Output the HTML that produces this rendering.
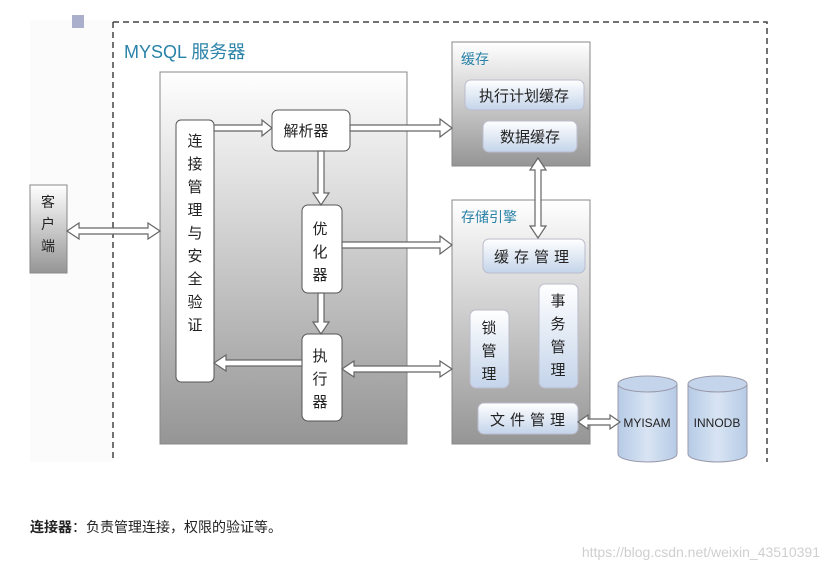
<!DOCTYPE html>
<html><head><meta charset="utf-8"><style>
html,body{margin:0;padding:0;background:#fff;width:827px;height:572px;overflow:hidden}
svg text{font-family:"Liberation Sans","Noto Sans CJK SC",sans-serif}
</style></head><body>
<svg width="827" height="572" viewBox="0 0 827 572" xmlns="http://www.w3.org/2000/svg">
<defs>
<linearGradient id="g1" x1="0" y1="0" x2="0" y2="1"><stop offset="0" stop-color="#ffffff"/><stop offset="1" stop-color="#959595"/></linearGradient>
<linearGradient id="g2" x1="0" y1="0" x2="0" y2="1"><stop offset="0" stop-color="#ffffff"/><stop offset="1" stop-color="#c4d4ea"/></linearGradient>
<linearGradient id="g3" x1="0" y1="0" x2="1" y2="0"><stop offset="0" stop-color="#b6cbe6"/><stop offset="0.5" stop-color="#d8e4f3"/><stop offset="1" stop-color="#b6cbe6"/></linearGradient>
</defs>
<rect x="30" y="20" width="83" height="442" fill="#fbfbfb"/>
<rect x="72" y="15" width="12" height="13" fill="#aab0cc"/>
<path d="M113 22 H767 V462 M113 22 V462" fill="none" stroke="#444" stroke-width="1.5" stroke-dasharray="6,4"/>
<text x="124" y="58" font-size="18" fill="#2a82a8">MYSQL 服务器</text>

<rect x="160" y="72" width="247" height="372" fill="url(#g1)" stroke="#888"/>
<rect x="30" y="185" width="37" height="88" fill="url(#g1)" stroke="#888"/>
<g font-size="14" fill="#222" text-anchor="middle">
<text x="48" y="207">客</text><text x="48" y="229">户</text><text x="48" y="251">端</text>
</g>

<rect x="176" y="120" width="38" height="262" rx="5" fill="#fff" stroke="#555"/>
<g font-size="15" fill="#222" text-anchor="middle">
<text x="195" y="146">连</text><text x="195" y="169">接</text><text x="195" y="192">管</text><text x="195" y="215">理</text><text x="195" y="238">与</text><text x="195" y="261">安</text><text x="195" y="284">全</text><text x="195" y="307">验</text><text x="195" y="330">证</text>
</g>
<rect x="272" y="110" width="78" height="41" rx="6" fill="#fff" stroke="#555"/>
<text x="306" y="136" font-size="15" fill="#222" text-anchor="middle">解析器</text>
<rect x="302" y="205" width="40" height="88" rx="6" fill="#fff" stroke="#555"/>
<g font-size="15" fill="#222" text-anchor="middle">
<text x="320" y="234">优</text><text x="320" y="257">化</text><text x="320" y="280">器</text>
</g>
<rect x="302" y="334" width="40" height="87" rx="6" fill="#fff" stroke="#555"/>
<g font-size="15" fill="#222" text-anchor="middle">
<text x="320" y="361">执</text><text x="320" y="384">行</text><text x="320" y="407">器</text>
</g>

<rect x="452" y="42" width="138" height="124" fill="url(#g1)" stroke="#888"/>
<text x="461" y="64" font-size="14" fill="#2a82a8">缓存</text>
<rect x="465" y="80" width="119" height="30" rx="6" fill="url(#g2)" stroke="#bbc"/>
<text x="524" y="101" font-size="15" fill="#222" text-anchor="middle">执行计划缓存</text>
<rect x="483" y="121" width="94" height="31" rx="6" fill="url(#g2)" stroke="#bbc"/>
<text x="530" y="142" font-size="15" fill="#222" text-anchor="middle">数据缓存</text>

<rect x="452" y="200" width="138" height="244" fill="url(#g1)" stroke="#888"/>
<text x="461" y="222" font-size="14" fill="#2a82a8">存储引擎</text>
<rect x="483" y="239" width="102" height="34" rx="6" fill="url(#g2)" stroke="#bbc"/>
<text x="534" y="262" font-size="15" fill="#222" text-anchor="middle" letter-spacing="5">缓存管理</text>
<rect x="470" y="310" width="39" height="78" rx="6" fill="url(#g2)" stroke="#bbc"/>
<g font-size="15" fill="#222" text-anchor="middle">
<text x="489" y="333">锁</text><text x="489" y="356">管</text><text x="489" y="379">理</text>
</g>
<rect x="539" y="284" width="39" height="104" rx="6" fill="url(#g2)" stroke="#bbc"/>
<g font-size="15" fill="#222" text-anchor="middle">
<text x="558" y="306">事</text><text x="558" y="329">务</text><text x="558" y="352">管</text><text x="558" y="375">理</text>
</g>
<rect x="478" y="403" width="100" height="31" rx="6" fill="url(#g2)" stroke="#bbc"/>
<text x="530" y="425" font-size="15" fill="#222" text-anchor="middle" letter-spacing="5">文件管理</text>

<g stroke="#99a" stroke-width="1">
<path d="M618 384 V454 A29.5 8 0 0 0 677 454 V384" fill="url(#g3)"/>
<ellipse cx="647.5" cy="384" rx="29.5" ry="8" fill="#c4d4ea"/>
<path d="M688 384 V454 A29.5 8 0 0 0 747 454 V384" fill="url(#g3)"/>
<ellipse cx="717.5" cy="384" rx="29.5" ry="8" fill="#c4d4ea"/>
</g>
<text x="647" y="427" font-size="12" fill="#222" text-anchor="middle">MYISAM</text>
<text x="717" y="427" font-size="12" fill="#222" text-anchor="middle">INNODB</text>

<g fill="#fff" stroke="#666" stroke-width="1.2" stroke-linejoin="miter">
<polygon points="67,231 79,223 79,228 148,228 148,223 160,231 148,239 148,234 79,234 79,239"/>
<polygon points="214,125 262,125 262,120 272,128 262,136 262,131 214,131"/>
<polygon points="350,125 440,125 440,119 452,128 440,137 440,131 350,131"/>
<polygon points="342,242 440,242 440,236 452,245 440,254 440,248 342,248"/>
<polygon points="342,369 354,361 354,366 440,366 440,361 452,369 440,377 440,372 354,372 354,377"/>
<polygon points="302,360 226,360 226,355 214,363 226,371 226,366 302,366"/>
<polygon points="318,151 318,193 313,193 321,205 329,193 324,193 324,151"/>
<polygon points="318,293 318,322 313,322 321,334 329,322 324,322 324,293"/>
<polygon points="538,158 530,170 535,170 535,226 530,226 538,238 546,226 541,226 541,170 546,170"/>
<polygon points="578,422 588,415 588,419 610,419 610,415 620,422 610,429 610,425 588,425 588,429"/>
</g>

<text x="30" y="532" font-size="14" fill="#222"><tspan font-weight="bold">连接器</tspan>：负责管理连接，权限的验证等。</text>
<text x="820" y="557" font-size="14" fill="#cfcfcf" text-anchor="end">https://blog.csdn.net/weixin_43510391</text>
</svg>
</body></html>
